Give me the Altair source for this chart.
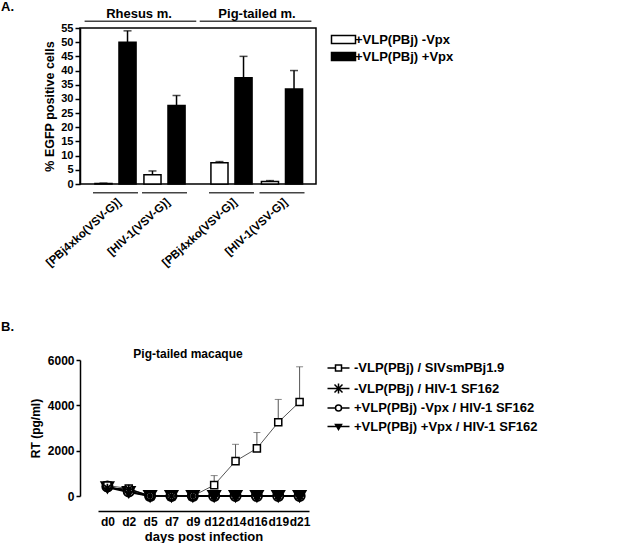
import altair as alt
import pandas as pd

FONT = "Liberation Sans"

# ---------------- Panel A data ----------------
groups = ["g1", "g2", "g3", "g4"]
group_labels = ["[PBj4xko(VSV-G)]", "[HIV-1(VSV-G)]", "[PBj4xko(VSV-G)]", "[HIV-1(VSV-G)]"]
group_species = ["Rhesus m.", "Rhesus m.", "Pig-tailed m.", "Pig-tailed m."]
species = ["Rhesus m.", "Pig-tailed m."]
series_a = ["+VLP(PBj) -Vpx", "+VLP(PBj) +Vpx"]
minus_vpx = [0.2, 3.3, 7.5, 0.9]
minus_err = [0.1, 1.3, 0.4, 0.3]
plus_vpx = [50.0, 27.7, 37.5, 33.5]
plus_err = [4.0, 3.5, 7.5, 6.5]

# ---------------- Panel B data ----------------
days = ["d0", "d2", "d5", "d7", "d9", "d12", "d14", "d16", "d19", "d21"]
series_b = ["-VLP(PBj) / SIVsmPBj1.9", "-VLP(PBj) / HIV-1 SF162",
            "+VLP(PBj) -Vpx / HIV-1 SF162", "+VLP(PBj) +Vpx / HIV-1 SF162"]
s1 = [460, 330, 0, 0, 0, 480, 1540, 2100, 3250, 4150]
s1_err = [0, 0, 0, 0, 0, 420, 740, 700, 1010, 1550]
s2 = [350, 300, 0, 0, 0, 0, 0, 0, 0, 0]
s3 = [420, 200, 0, 0, 0, 0, 0, 0, 0, 0]
s4 = [380, 180, 0, 0, 0, 0, 0, 0, 0, 0]

# ---------------- Panel A ----------------
rows = []
for i, g in enumerate(groups):
    rows.append({"group": g, "sp": group_species[i], "series": series_a[0],
                 "value": minus_vpx[i], "top": minus_vpx[i] + minus_err[i]})
    rows.append({"group": g, "sp": group_species[i], "series": series_a[1],
                 "value": plus_vpx[i], "top": plus_vpx[i] + plus_err[i]})
dfA = pd.DataFrame(rows)

label_expr = "[" + ",".join("'%s'" % l for l in group_labels) + "][indexof([" + \
    ",".join("'%s'" % g for g in groups) + "], datum.value)]"

xoffA = alt.Scale(domain=series_a, paddingInner=0.29, paddingOuter=0.08)
yA = alt.Scale(domain=[0, 55], nice=False)
yaxisA = alt.Axis(values=list(range(0, 56, 5)), title="% EGFP positive cells",
                  titleFontSize=12.5, labelFontSize=11, tickSize=5,
                  titlePadding=4, labelPadding=2, labelOverlap=False)
xaxisA = alt.Axis(orient="bottom", labelExpr=label_expr, labelAngle=-42, labelFontSize=11.5,
                  title=None, ticks=False, domain=False, labelPadding=12, labelOverlap=False)
legend_a = alt.Legend(title=None, orient="none", legendX=257, legendY=5,
                      labelFont=FONT, labelFontSize=13, labelFontWeight="bold",
                      symbolSize=100, rowPadding=2, labelOffset=5, padding=0,
                      symbolType="M-2.4,-0.8H2.4V0.8H-2.4Z",
                      symbolStrokeColor="black", symbolStrokeWidth=1.5,
                      symbolOpacity=1)

# each species block gets its own band scale so the gap between blocks is kept
block_ranges = {"Rhesus m.": [13, 107], "Pig-tailed m.": [129, 224.5]}
block_pad = {"Rhesus m.": 0.082, "Pig-tailed m.": 0.109}


def block_layers(sp):
    d = dfA[dfA["sp"] == sp]
    gs = [g for g, s in zip(groups, group_species) if s == sp]
    xs = alt.Scale(domain=gs, range=block_ranges[sp], paddingInner=block_pad[sp],
                   paddingOuter=0)
    X = alt.X("group:N", scale=xs, sort=gs, axis=xaxisA)
    bars = alt.Chart(d).mark_bar(stroke="black", strokeWidth=1.5).encode(
        x=X,
        xOffset=alt.XOffset("series:N", scale=xoffA, sort=series_a),
        y=alt.Y("value:Q", scale=yA, axis=yaxisA),
        fill=alt.Fill("series:N", scale=alt.Scale(domain=series_a, range=["white", "black"]),
                      legend=legend_a),
    )
    rules = alt.Chart(d).mark_rule(color="black", strokeWidth=1.5).encode(
        x=X,
        xOffset=alt.XOffset("series:N", scale=xoffA, sort=series_a),
        y=alt.Y("value:Q", scale=yA, axis=yaxisA),
        y2="top:Q",
    )
    caps = alt.Chart(d).mark_tick(color="black", thickness=1.5, size=8,
                                  orient="horizontal").encode(
        x=X,
        xOffset=alt.XOffset("series:N", scale=xoffA, sort=series_a),
        y=alt.Y("top:Q", scale=yA, axis=yaxisA),
    )
    under = alt.Chart(pd.DataFrame({"group": gs})).mark_bar(color="#444").encode(
        x=X,
        y=alt.value(164),
        y2=alt.value(165.5),
    )
    return alt.layer(bars, rules, caps, under)


a_label = alt.Chart(pd.DataFrame({"t": ["A."]})).mark_text(
    align="left", baseline="top", font=FONT, fontWeight="bold", fontSize=13
).encode(x=alt.value(-79), y=alt.value(-27), text="t:N")

sp_scale = alt.Scale(domain=species, paddingInner=0.03, paddingOuter=0.04)
sp_df = pd.DataFrame({"species": species})
bracket = alt.Chart(sp_df).mark_bar(color="#444").encode(
    x=alt.X("species:N", scale=sp_scale, axis=None, sort=species),
    y=alt.value(-6),
    y2=alt.value(-7.5),
)
bracket_txt = alt.Chart(sp_df).mark_text(
    font=FONT, fontWeight="bold", fontSize=13, baseline="middle"
).encode(
    x=alt.X("species:N", scale=sp_scale, axis=None, sort=species),
    y=alt.value(-14),
    text="species:N",
)

panel_a = alt.layer(block_layers("Rhesus m."), block_layers("Pig-tailed m."),
                    bracket, bracket_txt, a_label).resolve_scale(
    x="independent"
).properties(width=236, height=156,
             view=alt.ViewBackground(stroke="black", strokeWidth=1.5))

# ---------------- Panel B ----------------
order_rows = [(series_b[2], s3), (series_b[3], s4), (series_b[0], s1), (series_b[1], s2)]
rowsB = []
for name, vals in order_rows:
    for j, d in enumerate(days):
        e = s1_err[j] if name == series_b[0] else 0
        rowsB.append({"day": d, "series": name, "value": vals[j], "top": vals[j] + e, "err": e})
dfB = pd.DataFrame(rowsB)

xB = alt.Scale(type="point", domain=days, range=[18, 229], padding=0.44)
yB = alt.Scale(domain=[0, 6000], nice=False)

ast_path = "M-1,0H1M0,-1V1M-0.7,-0.7L0.7,0.7M-0.7,0.7L0.7,-0.7"
leg_paths = [
    "M-2.2,0H-0.6M0.6,0H2.2M-0.6,-0.6H0.6V0.6H-0.6Z",
    "M-2.2,0H2.2M0,-1V1M-0.8,-0.8L0.8,0.8M-0.8,0.8L0.8,-0.8",
    "M-2.2,0H-0.6M0.6,0H2.2M-0.6,0A0.6,0.6,0,1,0,0.6,0A0.6,0.6,0,1,0,-0.6,0Z",
    "M-2.2,0H2.2M-0.6,-0.4H0.6L0,0.6ZM-0.35,-0.25H0.35L0,0.3ZM-0.15,-0.1H0.15L0,0.1Z",
]

lines = alt.Chart(dfB).mark_line().encode(
    x=alt.X("day:N", scale=xB, sort=days,
            axis=alt.Axis(title="days post infection", titleFontSize=13, labelFontSize=12,
                          labelAngle=0, ticks=False, offset=15, labelPadding=5,
                          titlePadding=3, labelOverlap=False)),
    y=alt.Y("value:Q", scale=yB,
            axis=alt.Axis(values=list(range(0, 6001, 1000)), title="RT (pg/ml)",
                          titleFontSize=12, labelFontSize=12, tickSize=4, format="d",
                          titlePadding=5, labelPadding=2, labelOverlap=False)),
    color=alt.Color("series:N", scale=alt.Scale(domain=series_b,
                                                range=["#555555", "black", "black", "black"]),
                    legend=None),
    strokeWidth=alt.StrokeWidth("series:N", scale=alt.Scale(domain=series_b,
                                                            range=[1, 2, 2, 2]),
                                legend=None),
    detail="series:N",
)

b_err = dfB[dfB["err"] > 0]
err_b = alt.Chart(b_err).mark_rule(color="#555555", strokeWidth=1).encode(
    x=alt.X("day:N", scale=xB, sort=days),
    y=alt.Y("value:Q", scale=yB),
    y2="top:Q",
)
cap_b = alt.Chart(b_err).mark_tick(color="#555555", thickness=1, size=7,
                                   orient="horizontal").encode(
    x=alt.X("day:N", scale=xB, sort=days),
    y=alt.Y("top:Q", scale=yB),
)

points = alt.Chart(dfB).mark_point(opacity=1, stroke="black").encode(
    x=alt.X("day:N", scale=xB, sort=days),
    y=alt.Y("value:Q", scale=yB),
    shape=alt.Shape("series:N",
                    scale=alt.Scale(domain=series_b,
                                    range=["square", ast_path, "circle", "triangle-down"]),
                    legend=None),
    fill=alt.Fill("series:N", scale=alt.Scale(domain=series_b,
                                              range=["white", "transparent", "white", "black"]),
                  legend=None),
    size=alt.Size("series:N", scale=alt.Scale(domain=series_b, range=[50, 130, 40, 40]),
                  legend=None),
    strokeWidth=alt.StrokeWidth("series:N", scale=alt.Scale(domain=series_b,
                                                            range=[1.5, 2.2, 1.5, 1.5]),
                                legend=None),
)

leg_b = alt.Legend(title=None, orient="none", legendX=252, legendY=1.5,
                   labelFont=FONT, labelFontSize=13, labelFontWeight="bold",
                   symbolSize=100, rowPadding=4.5, labelOffset=9, padding=0,
                   labelLimit=400, symbolStrokeColor="black", symbolStrokeWidth=1.5,
                   symbolOpacity=1, symbolFillColor="transparent")
legend_layer = alt.Chart(pd.DataFrame({"series": pd.Series([], dtype=str)})).mark_point(
    filled=False, opacity=1, stroke="black", strokeWidth=1.5
).encode(
    shape=alt.Shape("series:N", scale=alt.Scale(domain=series_b, range=leg_paths),
                    legend=leg_b),
)

b_label = alt.Chart(pd.DataFrame({"t": ["B."]})).mark_text(
    align="left", baseline="top", font=FONT, fontWeight="bold", fontSize=13
).encode(x=alt.value(-79), y=alt.value(-39), text="t:N")

b_title = alt.Chart(pd.DataFrame({"t": ["Pig-tailed macaque"]})).mark_text(
    align="center", baseline="middle", font=FONT, fontWeight="bold", fontSize=12
).encode(x=alt.value(108), y=alt.value(-6), text="t:N")

panel_b = alt.layer(lines, err_b, cap_b, points, legend_layer, b_label, b_title).resolve_scale(
    strokeWidth="independent", color="independent", shape="independent",
    fill="independent", size="independent"
).properties(width=229, height=136)

chart = alt.vconcat(panel_a, panel_b, spacing=51).properties(
    padding={"left": 0, "top": 0, "right": 0, "bottom": 0}
).configure_view(stroke=None).configure_axis(
    labelFont=FONT, titleFont=FONT, labelFontWeight="bold", titleFontWeight="bold",
    domainColor="black", tickColor="black", labelColor="black", titleColor="black",
    grid=False, domainWidth=1.5, tickWidth=1.5
)

chart.save("out.html", embed_options={"renderer": "svg", "actions": False})
